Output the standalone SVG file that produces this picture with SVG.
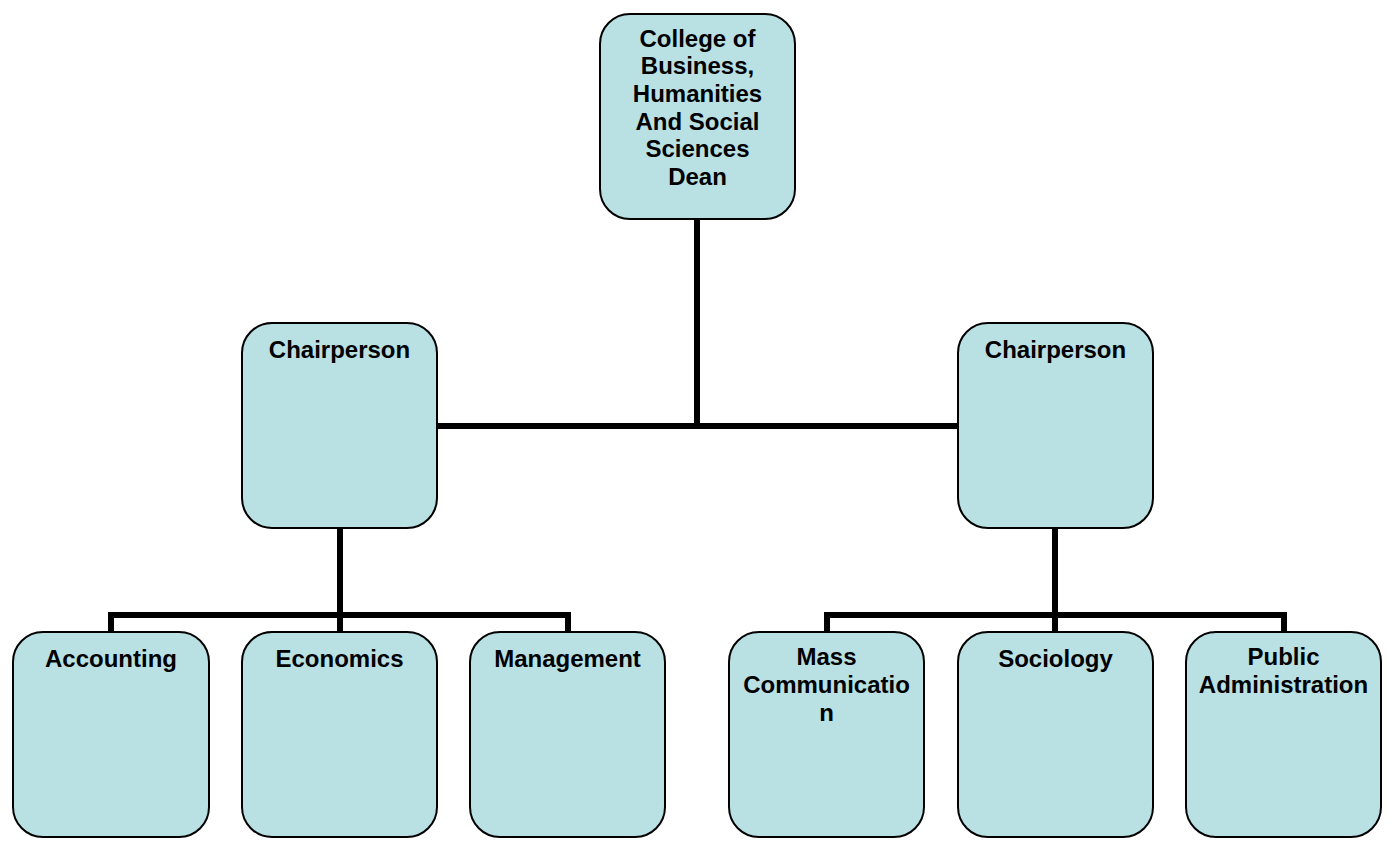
<svg xmlns="http://www.w3.org/2000/svg" width="1389" height="846" viewBox="0 0 1389 846">
  <style>
    .box { fill: #b9e0e3; stroke: #000; stroke-width: 2; }
    .lbl { font-family: "Liberation Sans", Arial, sans-serif; font-weight: bold; font-size: 24px; fill: #000; text-anchor: middle; }
    .wire { fill: none; stroke: #000; stroke-width: 6; stroke-linejoin: miter; }
  </style>
  <rect width="1389" height="846" fill="#fff"/>

  <!-- connectors -->
  <g id="connectors">
    <path class="wire" d="M697,219 V426"/>
    <path class="wire" d="M437,426 H958"/>
    <path class="wire" d="M340,528 V615"/>
    <path class="wire" d="M111,632 V615 H568 V632"/>
    <path class="wire" d="M340,615 V632"/>
    <path class="wire" d="M1055,528 V615"/>
    <path class="wire" d="M827,632 V615 H1284 V632"/>
    <path class="wire" d="M1055,615 V632"/>
  </g>

  <g id="dean">
    <rect class="box" x="600" y="14" width="195" height="205" rx="30"/>
    <text class="lbl" x="697.5" y="46.5">College of</text>
    <text class="lbl" x="697.5" y="74.2">Business,</text>
    <text class="lbl" x="697.5" y="101.9">Humanities</text>
    <text class="lbl" x="697.5" y="129.6">And Social</text>
    <text class="lbl" x="697.5" y="157.3">Sciences</text>
    <text class="lbl" x="697.5" y="185">Dean</text>
  </g>

  <g id="chair-left">
    <rect class="box" x="242" y="323" width="195" height="205" rx="30"/>
    <text class="lbl" x="339.5" y="358">Chairperson</text>
  </g>

  <g id="chair-right">
    <rect class="box" x="958" y="323" width="195" height="205" rx="30"/>
    <text class="lbl" x="1055.5" y="358">Chairperson</text>
  </g>

  <g id="accounting">
    <rect class="box" x="13" y="632" width="196" height="205" rx="30"/>
    <text class="lbl" x="111" y="667">Accounting</text>
  </g>

  <g id="economics">
    <rect class="box" x="242" y="632" width="195" height="205" rx="30"/>
    <text class="lbl" x="339.5" y="667">Economics</text>
  </g>

  <g id="management">
    <rect class="box" x="470" y="632" width="195" height="205" rx="30"/>
    <text class="lbl" x="567.5" y="667">Management</text>
  </g>

  <g id="mass-communication">
    <rect class="box" x="729" y="632" width="195" height="205" rx="30"/>
    <text class="lbl" x="826.5" y="665">Mass</text>
    <text class="lbl" x="826.5" y="693">Communicatio</text>
    <text class="lbl" x="826.5" y="721">n</text>
  </g>

  <g id="sociology">
    <rect class="box" x="958" y="632" width="195" height="205" rx="30"/>
    <text class="lbl" x="1055.5" y="667">Sociology</text>
  </g>

  <g id="public-administration">
    <rect class="box" x="1186" y="632" width="195" height="205" rx="30"/>
    <text class="lbl" x="1283.5" y="665">Public</text>
    <text class="lbl" x="1283.5" y="693">Administration</text>
  </g>
</svg>
